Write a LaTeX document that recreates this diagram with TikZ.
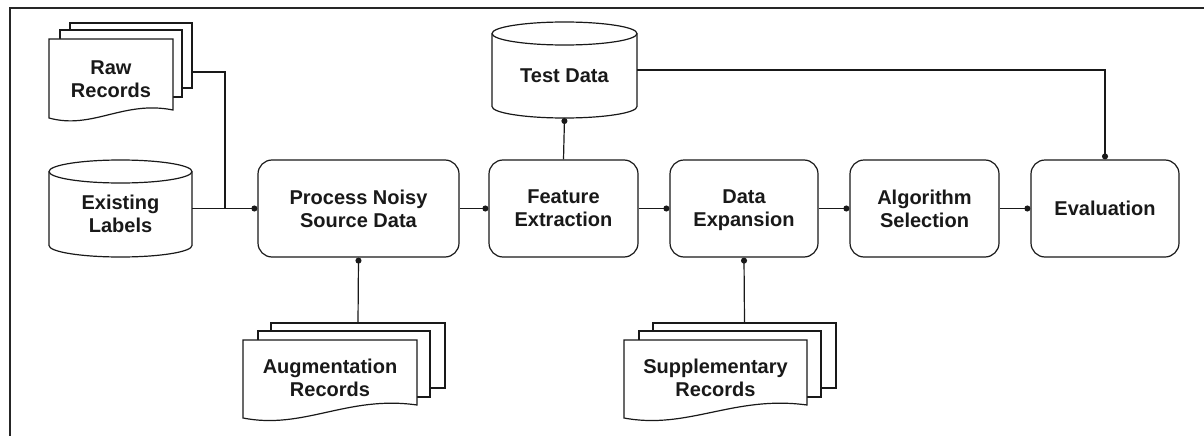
\documentclass[tikz,border=0pt]{standalone}
\usepackage{fontspec}
\setmainfont{Liberation Sans}
\usetikzlibrary{arrows.meta}
\newcommand\frontdoc[5]{%
  \pgfmathsetmacro\wa{#1+0.35*(#2-#1)}%
  \pgfmathsetmacro\wb{#1+0.6*(#2-#1)}%
  \draw[shp] (#1,#3) -- (#2,#3) -- (#2,#5) .. controls (\wb,#5-10) and (\wa,#4+12) .. (#1,#4) -- cycle;}
\newcommand\cylshape[4]{% x0 x1 top bottom
  \pgfmathsetmacro\crx{(#2-#1)/2}%
  \draw[shp] (#1,#3+11.5) -- (#1,#4-11.5) arc[start angle=180,end angle=360,x radius=\crx pt,y radius=11.5pt]
     -- (#2,#3+11.5) arc[start angle=0,end angle=180,x radius=\crx pt,y radius=11.5pt] -- cycle;
  \draw[shp,fill=none] (#1,#3+11.5) arc[start angle=180,end angle=360,x radius=\crx pt,y radius=11.5pt];}
\begin{document}
\begin{tikzpicture}[x=1pt,y=-1pt,
  shp/.style={draw=black!90,line width=1.2pt,fill=white},
  txt/.style={align=center,inner sep=0pt,text=black!90,font=\bfseries\fontsize{20}{23}\selectfont},
  box/.style={shp,txt,rounded corners=14pt,minimum height=97pt},
  body/.style={inner sep=0pt,outer sep=0pt},
  conn/.style={draw=black!90,line width=1.2pt,-{Circle[length=6pt,width=6pt]}},
  wire/.style={draw=black!90,line width=1.2pt}]
\useasboundingbox (0,0) rectangle (1204,436);
\draw[line width=2pt,draw=black!85] (1204,8.5) -- (9.5,8.5) -- (9.5,436);

% Raw Records (document stack)
\draw[shp] (70,23) rectangle (192,88);
\draw[shp] (60,30) rectangle (182,97);
\frontdoc{49}{173}{39}{118}{110}
\node[body,minimum width=143pt,minimum height=95pt] (raw) at (120.5,72) {};
\node[txt] (rawt) at (111,79) {Raw\\Records};

% Existing Labels (cylinder)
\cylshape{49}{192}{160}{257}
\node[body,minimum width=143pt,minimum height=97pt] (lab) at (120.5,208.5) {};
\node[txt] (labt) at (120.5,214) {Existing\\Labels};

% Test Data (cylinder)
\cylshape{492}{637}{22}{118}
\node[body,minimum width=145pt,minimum height=96pt] (test) at (564.5,70) {};
\node[txt] (testt) at (564.5,76) {Test Data};

% Process boxes
\node[box,minimum width=201pt] (proc) at (358.5,208.5) {Process Noisy\\Source Data};
\node[box,minimum width=149pt] (fe) at (563.5,208.5) {Feature\\Extraction};
\node[box,minimum width=148pt] (de) at (744,208.5) {Data\\\raisebox{0pt}[\height][0pt]{Expansion}};
\node[box,minimum width=149pt] (al) at (924.5,208.5) {Algorithm\\Selection};
\node[box,minimum width=148pt] (ev) at (1105,208.5) {Evaluation};

% Augmentation Records
\draw[shp] (271,323) rectangle (445,388);
\draw[shp] (258,331) rectangle (430,397);
\frontdoc{243}{417}{340}{418}{405}
\node[body,minimum width=174pt,minimum height=65pt] (augback) at (358,355.5) {};
\node[txt] (aug) at (330,378) {Augmentation\\Records};

% Supplementary Records
\draw[shp] (653,323) rectangle (836,388);
\draw[shp] (639,331) rectangle (821,397);
\frontdoc{624}{807}{340}{418}{405}
\node[body,minimum width=183pt,minimum height=65pt] (supback) at (744.5,355.5) {};
\node[txt] (sup) at (715.5,378) {Supplementary\\Records};

% connectors
\coordinate (jn) at (225,208.5);
\draw[wire] (raw.east) -| (jn);
\draw[conn] (lab.east) -- (proc.west);
\draw[conn] (proc.east) -- (fe.west);
\draw[conn] (fe.east) -- (de.west);
\draw[conn] (de.east) -- (al.west);
\draw[conn] (al.east) -- (ev.west);
\draw[conn] (fe.north) -- (test.south);
\draw[conn] (test.east) -| (ev.north);
\draw[conn] (augback.north) -- (proc.south);
\draw[conn] (supback.north) -- (de.south);
\end{tikzpicture}
\end{document}
